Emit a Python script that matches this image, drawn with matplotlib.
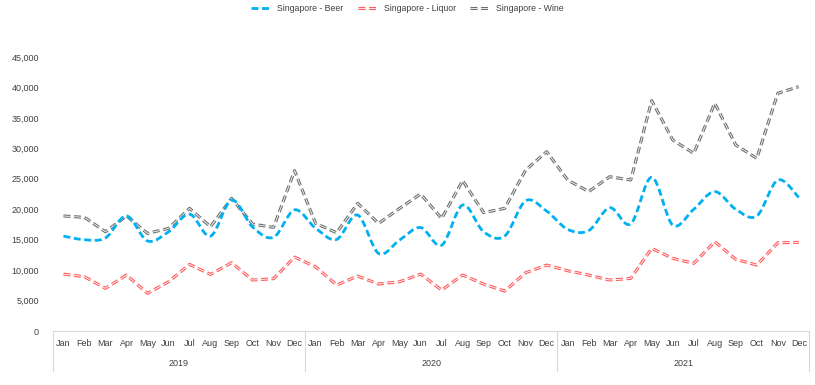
import matplotlib
matplotlib.use('Agg')
import matplotlib.pyplot as plt
import matplotlib.patheffects as pe
from matplotlib.path import Path
from matplotlib.patches import PathPatch
from matplotlib.lines import Line2D

plt.rcParams['font.family'] = ['Liberation Sans', 'DejaVu Sans']
plt.rcParams['lines.scale_dashes'] = False

months = ['Jan', 'Feb', 'Mar', 'Apr', 'May', 'Jun',
          'Jul', 'Aug', 'Sep', 'Oct', 'Nov', 'Dec']
years = ['2019', '2020', '2021']

beer = [15600, 15000, 15300, 18900, 14800, 16300, 19200, 15600, 21500, 17100, 15400, 19900,
        16900, 15050, 19050, 12750, 14950, 17000, 14100, 20700, 16300, 15600, 21400, 19700,
        16700, 16500, 20250, 17600, 25250, 17400, 20000, 22900, 20000, 18900, 24800, 21950]
liquor = [9360, 8920, 7010, 9200, 6190, 8100, 10950, 9310, 11220, 8380, 8600, 12150,
          10560, 7560, 9030, 7720, 8100, 9360, 6730, 9200, 7720, 6570, 9580, 10840,
          9910, 9200, 8380, 8650, 13580, 11940, 11120, 14670, 11780, 10840, 14500, 14570]
wine = [18900, 18670, 16300, 18900, 16040, 16860, 20150, 17130, 21800, 17570, 17030, 26330,
        17680, 16150, 20970, 17680, 20150, 22500, 18500, 24700, 19440, 20150, 26440, 29450,
        24800, 22900, 25350, 24800, 37830, 31370, 29180, 37400, 30550, 28360, 39040, 40130]

c_beer = '#00B0F0'
c_liquor = '#FF5B5B'
c_wine = '#6E6E6E'
dash = (0, (5, 2.6))

fig = plt.figure(figsize=(8.15, 3.85), dpi=100)
ax = fig.add_axes([0.065, 0.14, 0.928, 0.712])

x = list(range(len(beer)))

# smoothed line (Excel style bezier through the points)
verts = [(x[0], beer[0])]
codes = [Path.MOVETO]
n = len(beer)
for i in range(n - 1):
    p0 = (x[max(i - 1, 0)], beer[max(i - 1, 0)])
    p1 = (x[i], beer[i])
    p2 = (x[i + 1], beer[i + 1])
    p3 = (x[min(i + 2, n - 1)], beer[min(i + 2, n - 1)])
    c1 = (p1[0] + (p2[0] - p0[0]) / 6, p1[1] + (p2[1] - p0[1]) / 6)
    c2 = (p2[0] - (p3[0] - p1[0]) / 6, p2[1] - (p3[1] - p1[1]) / 6)
    verts += [c1, c2, p2]
    codes += [Path.CURVE4] * 3
ax.add_patch(PathPatch(Path(verts, codes), fill=False, edgecolor=c_beer,
                       linewidth=2.0, linestyle=dash, zorder=3))

# double (compound) dashed lines: white core with coloured outline
handles = [Line2D([], [], color=c_beer, linewidth=2.0, linestyle=dash)]
for vals, col in [(liquor, c_liquor), (wine, c_wine)]:
    fx = [pe.Stroke(linewidth=2.2, foreground=col), pe.Normal()]
    ln, = ax.plot(x, vals, color='white', linewidth=0.6, linestyle=dash,
                  zorder=2, path_effects=fx)
    handles.append(ln)

ax.set_xlim(-0.5, 35.5)
ax.set_ylim(0, 45000)
ax.set_yticks(range(0, 45001, 5000))
ax.set_yticklabels([f'{v:,}' for v in range(0, 45001, 5000)])
ax.set_xticks(x)
ax.set_xticklabels(months * 3)
ax.tick_params(axis='both', length=0, labelsize=6.5, colors='#404040')
ax.tick_params(axis='y', pad=10)
ax.tick_params(axis='x', pad=6)
for s in ['top', 'right', 'left']:
    ax.spines[s].set_visible(False)
ax.spines['bottom'].set_color('#d9d9d9')

trans = ax.get_xaxis_transform()
for k in range(4):
    ax.add_line(Line2D([k * 12 - 0.5] * 2, [0, -0.145], transform=trans,
                       color='#d9d9d9', linewidth=0.8, clip_on=False))
for k, yr in enumerate(years):
    ax.text(k * 12 + 5.5, -0.118, yr, transform=trans, ha='center', va='center',
            fontsize=6.5, color='#404040')

fig.legend(handles,
           ['Singapore - Beer', 'Singapore - Liquor', 'Singapore - Wine'],
           loc='upper center', bbox_to_anchor=(0.5, 1.01), ncol=3, frameon=False,
           fontsize=6.3, handlelength=2.2, columnspacing=1.6, labelcolor='#404040')

fig.savefig('out.png', dpi=100)
